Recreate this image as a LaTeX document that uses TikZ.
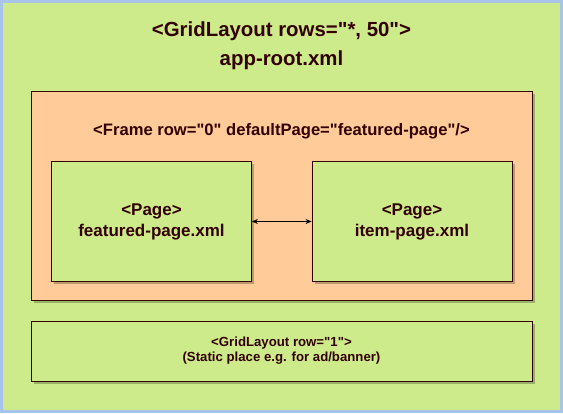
\documentclass[tikz,border=0pt]{standalone}
\usepackage{fontspec}
\setmainfont{Liberation Sans}[Ligatures=TeXOff]
\usetikzlibrary{arrows.meta,shadows}

\definecolor{appgreen}{HTML}{CDEB8B}
\definecolor{frameorange}{HTML}{FFCC99}
\definecolor{edgebrown}{HTML}{330000}
\definecolor{rimblue}{HTML}{A9C4EB}

\begin{document}
\begin{tikzpicture}[x=1pt,y=-1pt,
box/.style={draw=edgebrown,line width=0.8pt,text=edgebrown,font=\bfseries,align=center,inner sep=0pt,
  drop shadow={shadow xshift=2.5pt,shadow yshift=-2.5pt,fill=black,opacity=0.25}},
page/.style={box,fill=appgreen,minimum width=200pt,minimum height=120pt,font=\fontsize{17}{21}\bfseries},
label/.style={text=edgebrown,align=center,inner sep=0pt},
arrow/.style={{Stealth[length=6pt,width=5pt]}-{Stealth[length=6pt,width=5pt]},line width=0.8pt} ]

\useasboundingbox (0,0) rectangle (563,413);

\node[draw=rimblue,fill=appgreen,line width=3pt,minimum width=560pt,minimum height=410pt,inner sep=0pt](root) at (281.5,206.5) {};

\node[label,font=\fontsize{20.4}{29}\bfseries](title) at (281.5,45.5) {<GridLayout rows="*, 50">\\app-root.xml};

\node[box,fill=frameorange,minimum width=501pt,minimum height=209pt](frame) at (281.5,195.5) {};

\node[label,font=\fontsize{16.6}{20}\bfseries](framelabel) at (281.5,131) {<Frame row="0" defaultPage="featured-page"/>};

\node[page](featured) at (151.5,221.5) {<Page>\\featured-page.xml};

\node[page](item) at (412,221.5) {<Page>\\item-page.xml};

\node[box,fill=appgreen,minimum width=501pt,minimum height=60pt,font=\fontsize{13.2}{15}\bfseries](banner) at (281.5,351) {<GridLayout row="1">\\(Static place e.g. for ad/banner)};

\draw[arrow] (featured) -- (item);

\end{tikzpicture}
\end{document}
